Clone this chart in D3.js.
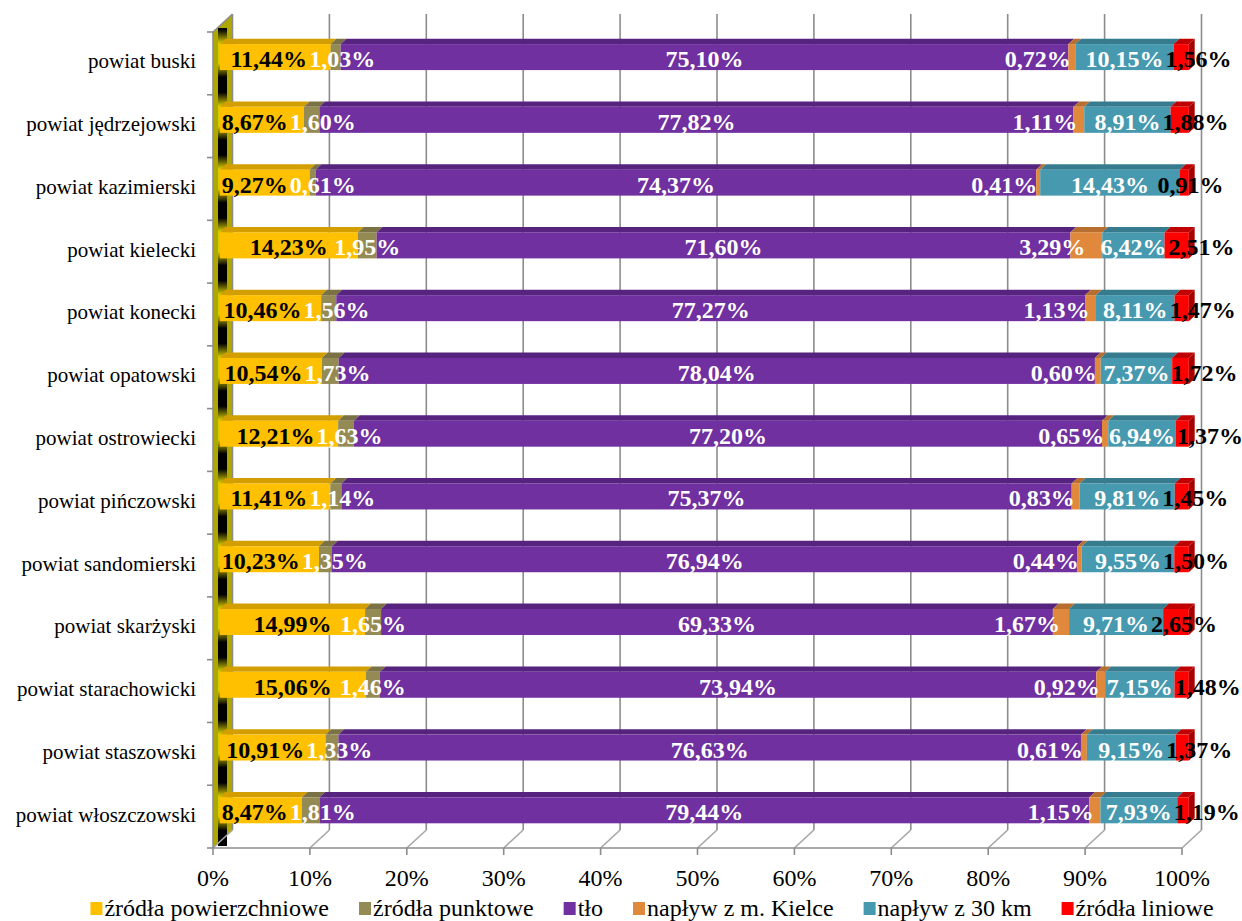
<!DOCTYPE html>
<html>
<head>
<meta charset="utf-8">
<script src="https://cdn.jsdelivr.net/npm/d3@7"></script>
<style>
  body { margin: 0; background: #fff; }
  text { font-family: "Liberation Serif", "Times New Roman", serif; }
</style>
</head>
<body>
<svg id="chart" width="1242" height="921"></svg>
<script>
// Udział źródeł w stężeniach – powiaty województwa świętokrzyskiego
const categories = [
  "powiat buski", "powiat jędrzejowski", "powiat kazimierski", "powiat kielecki",
  "powiat konecki", "powiat opatowski", "powiat ostrowiecki", "powiat pińczowski",
  "powiat sandomierski", "powiat skarżyski", "powiat starachowicki",
  "powiat staszowski", "powiat włoszczowski"
];
const zrodlaPowierzchniowe = [11.44, 8.67, 9.27, 14.23, 10.46, 10.54, 12.21, 11.41, 10.23, 14.99, 15.06, 10.91, 8.47];
const zrodlaPunktowe       = [1.03, 1.60, 0.61, 1.95, 1.56, 1.73, 1.63, 1.14, 1.35, 1.65, 1.46, 1.33, 1.81];
const tlo                  = [75.10, 77.82, 74.37, 71.60, 77.27, 78.04, 77.20, 75.37, 76.94, 69.33, 73.94, 76.63, 79.44];
const naplywKielce         = [0.72, 1.11, 0.41, 3.29, 1.13, 0.60, 0.65, 0.83, 0.44, 1.67, 0.92, 0.61, 1.15];
const naplyw30km           = [10.15, 8.91, 14.43, 6.42, 8.11, 7.37, 6.94, 9.81, 9.55, 9.71, 7.15, 9.15, 7.93];
const zrodlaLiniowe        = [1.56, 1.88, 0.91, 2.51, 1.47, 1.72, 1.37, 1.45, 1.50, 2.65, 1.48, 1.37, 1.19];
const seriesNames = ["źródła powierzchniowe", "źródła punktowe", "tło", "napływ z m. Kielce", "napływ z 30 km", "źródła liniowe"];
const xTickValues = [0, 10, 20, 30, 40, 50, 60, 70, 80, 90, 100];

// Colours: front face, top face, label colour
const front = ["#FFC000", "#948A54", "#7030A0", "#E0893C", "#4699AE", "#FF0000"];
const shade = ["#D29E00", "#7A7145", "#56237E", "#B86E2E", "#367C8E", "#C00000"];
const labelColor = ["#000", "#fff", "#fff", "#fff", "#fff", "#000"];
// horizontal nudge of labels for the narrow segments
const labelShift = [0, 0, 0, -34, 0, 6];

const seriesValues = [zrodlaPowierzchniowe, zrodlaPunktowe, tlo, naplywKielce, naplyw30km, zrodlaLiniowe];
const rows = categories.map((c, i) => {
  const r = { cat: c };
  seriesNames.forEach((s, k) => r[s] = seriesValues[k][i]);
  return r;
});
const stacked = d3.stack().keys(seriesNames).offset(d3.stackOffsetExpand)(rows);

const svg = d3.select("#chart");
const fmt = v => v.toFixed(2).replace(".", ",") + "%";

// Plot geometry (front plane) and depth offsets for the oblique 3D look
const x = d3.scaleLinear().domain([0, 1]).range([213, 1182]);
const xPct = d3.scaleLinear().domain([0, 100]).range([213, 1182]);
const yTop = 32, yBottom = 848;
const y = d3.scaleBand().domain(categories).range([yTop, yBottom]).paddingInner(0.586).paddingOuter(0.293);
const DX = 19.5, DY = -18;
const Z0 = 0.35, Z1 = 0.65;
const P = (xv, yv, z) => [x(xv) + z * DX, yv + z * DY];
const grid = "#8c8c8c";

const defs = svg.append("defs");
const step = (yBottom - yTop) / categories.length;
const wallGrad = defs.append("linearGradient")
  .attr("id", "wallStripe").attr("gradientUnits", "userSpaceOnUse")
  .attr("spreadMethod", "repeat")
  .attr("x1", 0).attr("x2", 0).attr("y1", yTop - 10).attr("y2", yTop - 10 + step);
[[0, "#000"], [0.12, "#000"], [0.34, "#d6cc00"], [0.66, "#d6cc00"], [0.88, "#000"], [1, "#000"]]
  .forEach(([o, c]) => wallGrad.append("stop").attr("offset", o).attr("stop-color", c));

// Left side wall
const wall = [[xPct(0), yTop], [xPct(0) + DX, yTop + DY], [xPct(0) + DX, yBottom + DY], [xPct(0), yBottom]];
svg.append("polygon").attr("points", wall.map(p => p.join(",")).join(" "))
  .attr("fill", "#AFA800");
svg.append("rect").attr("x", 218).attr("y", yTop - 4).attr("width", 9).attr("height", yBottom - yTop + 2)
  .attr("fill", "url(#wallStripe)");

// Back-wall gridlines and floor diagonals
const gridG = svg.append("g").attr("stroke", grid).attr("stroke-width", 1.6).attr("fill", "none");
xTickValues.forEach(t => {
  const xb = xPct(t) + DX;
  gridG.append("line").attr("x1", xb).attr("x2", xb).attr("y1", yTop + DY).attr("y2", yBottom + DY);
  gridG.append("line").attr("x1", xb).attr("x2", xPct(t)).attr("y1", yBottom + DY).attr("y2", yBottom)
    .attr("stroke", "#a6a6a6");
  gridG.append("line").attr("x1", xPct(t)).attr("x2", xPct(t)).attr("y1", yBottom).attr("y2", yBottom + 7);
});
// front floor edge, wall edges
gridG.append("line").attr("x1", xPct(0)).attr("x2", xPct(100)).attr("y1", yBottom).attr("y2", yBottom);
gridG.append("line").attr("x1", xPct(0)).attr("x2", xPct(0)).attr("y1", yTop).attr("y2", yBottom);
gridG.append("line").attr("x1", xPct(0)).attr("x2", xPct(0) + DX).attr("y1", yTop).attr("y2", yTop + DY);
// category ticks
d3.range(categories.length + 1).forEach(i => {
  const yy = yTop + i * step;
  gridG.append("line").attr("x1", xPct(0) - 6).attr("x2", xPct(0)).attr("y1", yy).attr("y2", yy);
});

// Bars
const poly = pts => pts.map(p => p.join(",")).join(" ");
const barH = y.bandwidth();
const barsG = svg.append("g");
categories.forEach((c, i) => {
  const yt = y(c), yb = y(c) + barH;
  stacked.forEach((s, k) => {
    const [a, b] = s[i];
    barsG.append("polygon")
      .attr("points", poly([P(a, yt, Z0), P(b, yt, Z0), P(b, yt, Z1), P(a, yt, Z1)]))
      .attr("fill", shade[k]);
    const p0 = P(a, yt, Z0), p1 = P(b, yb, Z0);
    barsG.append("rect").attr("x", p0[0]).attr("y", p0[1])
      .attr("width", p1[0] - p0[0]).attr("height", p1[1] - p0[1])
      .attr("fill", front[k]);
  });
  const last = stacked[stacked.length - 1][i][1];
  barsG.append("polygon")
    .attr("points", poly([P(last, yt, Z0), P(last, yt, Z1), P(last, yb, Z1), P(last, yb, Z0)]))
    .attr("fill", "#A80000");
});

// Data labels, spread apart where neighbours collide
const labG = svg.append("g").attr("font-weight", "bold").attr("font-size", 24).attr("text-anchor", "middle");
const gap = 2;
categories.forEach((c, i) => {
  const labs = stacked.map((s, k) => {
    const [a, b] = s[i];
    const p = P((a + b) / 2, y(c), Z0);
    const t = labG.append("text")
      .attr("y", p[1] + 23)
      .attr("fill", labelColor[k])
      .text(fmt(seriesValues[k][i]));
    return { t, cx: p[0] + labelShift[k], w: t.node().getComputedTextLength() };
  });
  // first pair: share the overlap, the left label may move back to the bar start
  const barStart = P(0, 0, Z0)[0] + 2;
  const l0 = labs[0], l1 = labs[1];
  const ov = (l0.cx + l0.w / 2 + gap) - (l1.cx - l1.w / 2);
  if (ov > 0) {
    const room = Math.max(0, (l0.cx - l0.w / 2) - barStart);
    const back = Math.min(ov / 2, room);
    l0.cx -= back;
    l1.cx += ov - back;
  }
  // remaining labels are pushed to the right
  for (let k = 2; k < labs.length; k++) {
    const prev = labs[k - 1], cur = labs[k];
    const o = (prev.cx + prev.w / 2 + gap) - (cur.cx - cur.w / 2);
    if (o > 0) cur.cx += o;
  }
  labs.forEach(l => l.t.attr("x", l.cx));
});

// Category axis labels
svg.append("g").attr("font-size", 21).attr("text-anchor", "end").attr("fill", "#000")
  .selectAll("text").data(categories).join("text")
  .attr("x", 196).attr("y", c => y(c) + barH / 2 + 5)
  .text(c => c);

// Value axis labels
svg.append("g").attr("font-size", 24).attr("text-anchor", "middle")
  .selectAll("text").data(xTickValues).join("text")
  .attr("x", t => xPct(t)).attr("y", 886)
  .text(t => t + "%");

// Legend
const legG = svg.append("g").attr("font-size", 24);
let lx = 0;
const items = [];
seriesNames.forEach((n, k) => {
  const g = legG.append("g");
  g.append("rect").attr("x", 0).attr("y", -14).attr("width", 12).attr("height", 13).attr("fill", front[k]);
  const t = g.append("text").attr("x", 14).attr("y", 0).text(n);
  const w = 14 + t.node().getComputedTextLength();
  items.push({ g, x: lx });
  lx += w + 30;
});
const total = lx - 30;
const startX = 652 - total / 2;
items.forEach(it => it.g.attr("transform", `translate(${startX + it.x},916)`));
</script>
</body>
</html>
